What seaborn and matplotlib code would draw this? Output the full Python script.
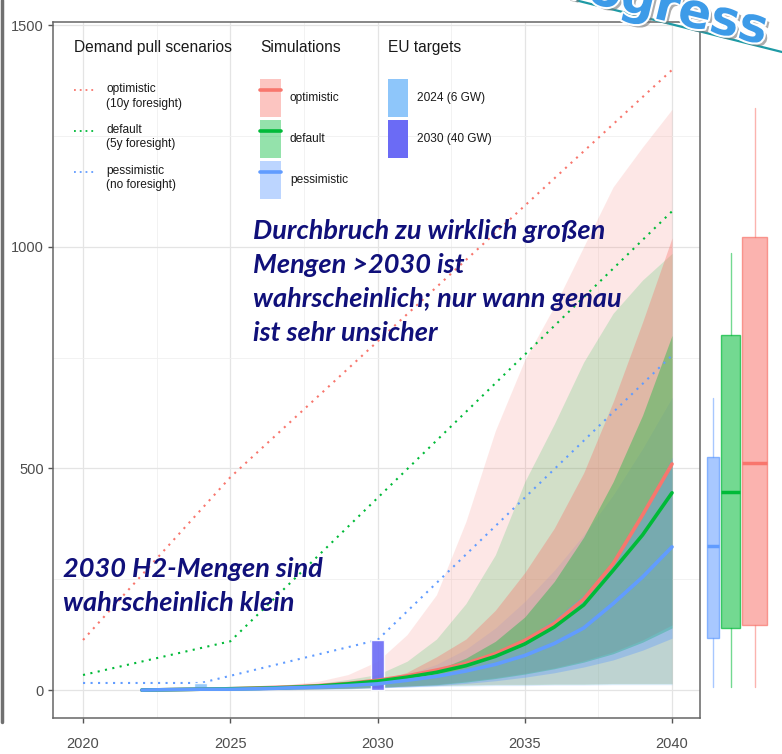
import matplotlib
matplotlib.use("Agg")
import matplotlib.pyplot as plt
import matplotlib.patheffects as pe
from matplotlib import font_manager
from matplotlib.lines import Line2D
from matplotlib.patches import Patch
import pandas as pd
import seaborn as sns

# ---- values ----
scenarios = ["optimistic", "default", "pessimistic"]
years = list(range(2022, 2041))

med_opt = [0, 1, 2, 3, 5, 7, 10, 15, 22, 32, 45, 60, 82, 112, 150, 205, 285, 395, 510]
med_def = [0, 1, 2, 3, 4, 6, 9, 14, 20, 29, 40, 55, 76, 104, 142, 192, 270, 350, 445]
med_pes = [0, 1, 2, 2, 3, 5, 7, 10, 14, 22, 31, 43, 58, 78, 105, 140, 195, 255, 323]

opt_hi_out = [0, 1, 3, 5, 8, 13, 20, 35, 65, 125, 215, 380, 585, 745, 865, 1000, 1135, 1225, 1310]
opt_lo_out = [0, 0, 0, 0, 1, 2, 3, 5, 8, 10, 11, 12, 13, 13, 14, 14, 15, 15, 15]
opt_hi_in = [0, 1, 2, 3, 4, 6, 9, 13, 20, 40, 75, 115, 180, 265, 365, 490, 650, 830, 1020]
opt_lo_in = [0, 0, 0, 1, 1, 2, 3, 4, 6, 9, 13, 20, 28, 38, 50, 66, 86, 113, 147]

def_hi_out = [0, 1, 2, 4, 6, 10, 15, 24, 35, 65, 115, 195, 305, 470, 600, 740, 850, 925, 985]
def_lo_out = [0, 0, 0, 0, 1, 2, 3, 4, 7, 9, 10, 11, 12, 12, 13, 13, 14, 14, 14]
def_hi_in = [0, 1, 2, 3, 4, 5, 7, 10, 15, 28, 45, 72, 110, 165, 245, 345, 470, 620, 800]
def_lo_in = [0, 0, 0, 1, 1, 2, 3, 4, 6, 9, 12, 18, 26, 36, 48, 63, 82, 108, 140]

pes_hi_out = [0, 1, 2, 3, 5, 7, 10, 14, 20, 35, 58, 92, 140, 200, 270, 350, 440, 545, 660]
pes_lo_out = [0, 0, 0, 0, 1, 1, 2, 3, 5, 7, 8, 9, 10, 10, 11, 11, 12, 12, 12]
pes_hi_in = [0, 1, 1, 2, 3, 4, 5, 7, 10, 20, 33, 52, 80, 115, 160, 215, 290, 390, 525]
pes_lo_in = [0, 0, 0, 0, 1, 1, 2, 3, 5, 7, 10, 15, 21, 29, 39, 52, 68, 90, 117]

# demand pull scenarios (dotted)
dem_opt_years = [2020, 2025, 2040]
dem_opt = [113, 480, 1399]
dem_def_years = [2020, 2025, 2040]
dem_def = [34, 110, 1080]
dem_pes_years = [2020, 2024, 2030, 2040]
dem_pes = [16, 16, 113, 755]
dem_labels = ["optimistic\n(10y foresight)", "default\n(5y foresight)", "pessimistic\n(no foresight)"]

# EU targets
target_years = [2024, 2030]
target_values = [16, 113]
target_labels = ["2024 (6 GW)", "2030 (40 GW)"]

# 2040 distribution (boxplots on the right): pessimistic, default, optimistic
box_names = ["pessimistic", "default", "optimistic"]
box_whislo = [7, 7, 7]
box_q1 = [117, 140, 147]
box_med = [325, 447, 512]
box_q3 = [526, 801, 1022]
box_whishi = [659, 986, 1313]

# ---- styling ----
cols = {"optimistic": "#F8766D", "default": "#00BA38", "pessimistic": "#619CFF"}
target_cols = ["#8ec6fa", "#6b6bf5"]
navy = "#10107a"


def pick_font(cands, style="normal", weight="normal"):
    for fam in cands:
        try:
            path = font_manager.findfont(font_manager.FontProperties(family=fam, style=style, weight=weight),
                                         fallback_to_default=False)
        except Exception:
            continue
        if style == "italic" and not any(k in path.lower() for k in ("italic", "oblique")):
            continue
        return fam
    return "DejaVu Sans"


sns.set_theme(style="white")
gg_font = pick_font(["Liberation Sans Narrow", "Liberation Sans"])
note_font = pick_font(["Lato", "Liberation Sans"], style="italic", weight="bold")
plt.rcParams["font.family"] = [gg_font, "DejaVu Sans"]

W, H = 782, 754
fig = plt.figure(figsize=(W / 100, H / 100), dpi=100)
fig.patch.set_facecolor("white")


def fx(px):
    return px / W


def fy(py):
    return 1 - py / H


ax = fig.add_axes([fx(53), fy(718), fx(700) - fx(53), fy(22) - fy(718)])
ax.set_facecolor("white")

# ribbons
bands = {
    "optimistic": (opt_lo_out, opt_hi_out, opt_lo_in, opt_hi_in),
    "default": (def_lo_out, def_hi_out, def_lo_in, def_hi_in),
    "pessimistic": (pes_lo_out, pes_hi_out, pes_lo_in, pes_hi_in),
}
for s in scenarios:
    lo, hi, _, _ = bands[s]
    ax.fill_between(years, lo, hi, color=cols[s], alpha=0.17, lw=0, zorder=1)
for s in scenarios:
    _, _, lo, hi = bands[s]
    ax.fill_between(years, lo, hi, color=cols[s], alpha=0.37, lw=0, zorder=1.5)

# demand pull dotted lines
dem = pd.DataFrame({
    "year": dem_opt_years + dem_def_years + dem_pes_years,
    "value": dem_opt + dem_def + dem_pes,
    "scenario": ["optimistic"] * 3 + ["default"] * 3 + ["pessimistic"] * 4,
})
for s in scenarios:
    sns.lineplot(data=dem[dem.scenario == s], x="year", y="value", color=cols[s], lw=1.5,
                 linestyle=(0, (1, 2.6)), ax=ax, legend=False, zorder=2)

# EU targets
ax.bar(target_years, target_values, width=0.45, color=target_cols, alpha=0.9, zorder=2.5)

# simulation medians
med = pd.DataFrame({
    "year": years * 3,
    "value": med_opt + med_def + med_pes,
    "scenario": ["optimistic"] * len(years) + ["default"] * len(years) + ["pessimistic"] * len(years),
})
sns.lineplot(data=med, x="year", y="value", hue="scenario", hue_order=scenarios, palette=cols,
             lw=2.6, ax=ax, legend=False, zorder=3)

ax.set_xlim(2018.98, 2040.95)
ax.set_ylim(-63, 1507)
ax.set_xticks([2020, 2025, 2030, 2035, 2040])
ax.set_yticks([0, 500, 1000, 1500])
ax.set_xticks([2022.5, 2027.5, 2032.5, 2037.5], minor=True)
ax.set_yticks([250, 750, 1250], minor=True)
ax.grid(True, which="major", color="#e4e4e4", lw=0.9, zorder=0)
ax.grid(True, which="minor", color="#f0f0f0", lw=0.6, zorder=0)
ax.set_axisbelow(True)
ax.set_xlabel("")
ax.set_ylabel("")
for sp in ax.spines.values():
    sp.set_color("#666666")
    sp.set_linewidth(1.1)
ax.tick_params(axis="both", which="major", direction="out", length=3.5, width=1, color="#555555",
               labelsize=10.5, labelcolor="#4d4d4d", bottom=True, left=True)
ax.tick_params(axis="x", which="major", pad=10)
ax.tick_params(axis="y", which="major", pad=3)
ax.tick_params(axis="both", which="minor", length=0)

# legends
leg_kw = dict(frameon=False, borderpad=0, alignment="left", fontsize=8.6, title_fontsize=11.2,
              handleheight=4.5, labelspacing=0.25, borderaxespad=0)
h1 = [Line2D([], [], color=cols[s], lw=1.3, ls=(0, (1, 2.2))) for s in scenarios]
leg1 = ax.legend(h1, dem_labels, title="Demand pull scenarios\n", loc="upper left",
                 bbox_to_anchor=(fx(74), fy(40)), bbox_transform=fig.transFigure,
                 handlelength=1.7, handletextpad=1.0, **leg_kw)
ax.add_artist(leg1)
h2 = [(Patch(facecolor=cols[s], alpha=0.42, lw=0), Line2D([], [], color=cols[s], lw=2.6)) for s in scenarios]
leg2 = ax.legend(h2, scenarios, title="Simulations\n", loc="upper left",
                 bbox_to_anchor=(fx(260), fy(40)), bbox_transform=fig.transFigure,
                 handlelength=1.75, handletextpad=0.75, **leg_kw)
ax.add_artist(leg2)
h3 = [Patch(facecolor=c, lw=0) for c in target_cols]
leg3 = ax.legend(h3, target_labels, title="EU targets\n", loc="upper left",
                 bbox_to_anchor=(fx(388), fy(40)), bbox_transform=fig.transFigure,
                 handlelength=1.65, handletextpad=0.8, **leg_kw)
for lg in (leg1, leg2, leg3):
    lg.get_title().set_color("#1a1a1a")
    lg.get_title().set_linespacing(1.5)
    for t in lg.get_texts():
        t.set_color("#1a1a1a")
        t.set_linespacing(1.25)

# annotations
fig.text(fx(253), fy(219), "Durchbruch zu wirklich großen\nMengen >2030 ist\nwahrscheinlich; nur wann genau\nist sehr unsicher",
         ha="left", va="top", color=navy, fontsize=19.5, family=note_font, style="italic",
         weight="bold", linespacing=1.5)
fig.text(fx(63), fy(557), "2030 H2-Mengen sind\nwahrscheinlich klein",
         ha="left", va="top", color=navy, fontsize=19.5, family=note_font, style="italic",
         weight="bold", linespacing=1.48)

# boxplots of the 2040 distribution
axb = fig.add_axes([fx(702), fy(718), 1 - fx(702), fy(22) - fy(718)])
axb.set_xlim(0, 8)
axb.set_ylim(-63, 1507)
axb.axis("off")
stats = [dict(whislo=a, q1=b, med=c, q3=d, whishi=e, fliers=[], label=n)
         for n, a, b, c, d, e in zip(box_names, box_whislo, box_q1, box_med, box_q3, box_whishi)]
bp = axb.bxp(stats, positions=[1.1, 2.85, 5.25], widths=[1.2, 1.9, 2.5], patch_artist=True,
             showcaps=False, manage_ticks=False)
for i, n in enumerate(box_names):
    c = cols[n]
    bp["boxes"][i].set(facecolor=matplotlib.colors.to_rgba(c, 0.55), edgecolor=matplotlib.colors.to_rgba(c, 0.7), lw=1)
    bp["medians"][i].set(color=c, lw=2.5)
    for w in bp["whiskers"][2 * i:2 * i + 2]:
        w.set(color=c, alpha=0.55, lw=1)

# "Progress" stamp cut by the top edge
fig.add_artist(Line2D([fx(575), 1.0], [1.0, fy(52)], color="#1f9aa5", lw=1.6))
fig.text(fx(528), fy(-12), "Progress", rotation=-13.5, rotation_mode="anchor", ha="left", va="baseline",
         fontsize=35, weight="bold", family="DejaVu Sans", color="#3d9be8",
         path_effects=[pe.SimplePatchShadow(offset=(2.5, -2.5), shadow_rgbFace="#777777", alpha=0.6),
                       pe.Stroke(linewidth=3, foreground="white"), pe.Normal()])

# slide edge on the left
fig.add_artist(Line2D([0.002, 0.002], [1.0, fy(722)], color="#707070", lw=2.5))

fig.savefig("out.png", dpi=100, facecolor="white")
